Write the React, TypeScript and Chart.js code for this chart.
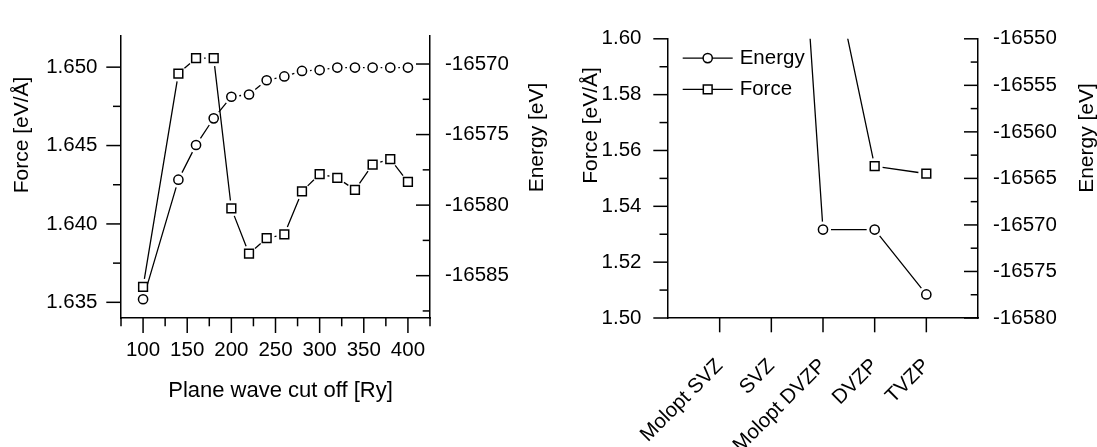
import { useEffect, useRef } from "react";
import { Chart, registerables } from "chart.js";

Chart.register(...registerables);

const INK = "#000000";
const FONT_FAMILY = "'Liberation Sans', Arial, Helvetica, sans-serif";

// Plane-wave cut-off scan [Ry]
const cutoffs = [100, 140, 160, 180, 200, 220, 240, 260, 280, 300, 320, 340, 360, 380, 400];
const cutoffEnergy = [
  -16586.67, -16578.2, -16575.74, -16573.85, -16572.32, -16572.16, -16571.15, -16570.88,
  -16570.49, -16570.43, -16570.25, -16570.25, -16570.25, -16570.25, -16570.25,
];
const cutoffForce = [
  1.63599, 1.64959, 1.65057, 1.65057, 1.64099, 1.6381, 1.63909, 1.63933, 1.64207, 1.64318,
  1.64294, 1.64217, 1.64379, 1.64414, 1.64268,
];

// Basis-set comparison
const basisSets = ["Molopt SVZ", "SVZ", "Molopt DVZP", "DVZP", "TVZP"];
const basisEnergy = [-16462, -16488, -16570.5, -16570.5, -16577.47];
const basisForce = [1.69, 1.668, 1.642, 1.5544, 1.5517];

// Axis ticks
const cutoffTicks = [100, 150, 200, 250, 300, 350, 400];
const cutoffMinorTicks = [75, 125, 175, 225, 275, 325, 375, 425];
const cutoffForceTicks = [1.635, 1.64, 1.645, 1.65];
const cutoffForceMinorTicks = [1.6375, 1.6425, 1.6475];
const cutoffEnergyTicks = [-16585, -16580, -16575, -16570];
const cutoffEnergyMinorTicks = [-16587.5, -16582.5, -16577.5, -16572.5];
const basisTicks = [1, 2, 3, 4, 5];
const basisForceTicks = [1.5, 1.52, 1.54, 1.56, 1.58, 1.6];
const basisForceMinorTicks = [1.51, 1.53, 1.55, 1.57, 1.59];
const basisEnergyTicks = [-16580, -16575, -16570, -16565, -16560, -16555, -16550];
const basisEnergyMinorTicks = [-16577.5, -16572.5, -16567.5, -16562.5, -16557.5, -16552.5];

type TickSet = { major: number[]; minor: number[]; majorLen: number; minorLen: number; inward: boolean };
type Caption = { text: string; x: number; y: number; angle: number; size: number };

// Major/minor tick marks drawn against each axis, pointing in or out of the frame.
function tickMarks(sets: Record<string, TickSet>) {
  return {
    id: "tickMarks",
    afterDraw(chart: any) {
      const { ctx, chartArea } = chart;
      ctx.save();
      ctx.strokeStyle = INK;
      ctx.lineWidth = 1.5;
      for (const id of Object.keys(sets)) {
        const set = sets[id];
        const scale = chart.scales[id];
        const stroke = (values: number[], len: number) => {
          for (const v of values) {
            const p = scale.getPixelForValue(v);
            ctx.beginPath();
            if (scale.isHorizontal()) {
              const y0 = chartArea.bottom;
              const dir = set.inward ? -1 : 1;
              ctx.moveTo(p, y0);
              ctx.lineTo(p, y0 + dir * len);
            } else {
              const atLeft = scale.position === "left";
              const x0 = atLeft ? chartArea.left : chartArea.right;
              const out = atLeft ? -1 : 1;
              const dir = set.inward ? -out : out;
              ctx.moveTo(x0, p);
              ctx.lineTo(x0 + dir * len, p);
            }
            ctx.stroke();
          }
        };
        stroke(set.major, set.majorLen);
        stroke(set.minor, set.minorLen);
      }
      ctx.restore();
    },
  };
}

// Connecting lines that stop short of each symbol.
const gappedLines = {
  id: "gappedLines",
  beforeDatasetsDraw(chart: any) {
    const { ctx, chartArea } = chart;
    ctx.save();
    ctx.beginPath();
    ctx.rect(chartArea.left, chartArea.top, chartArea.right - chartArea.left, chartArea.bottom - chartArea.top);
    ctx.clip();
    chart.data.datasets.forEach((ds: any, i: number) => {
      const pts = chart.getDatasetMeta(i).data;
      const gap = ds.lineGap ?? 8;
      ctx.strokeStyle = ds.borderColor;
      ctx.lineWidth = ds.borderWidth;
      ctx.beginPath();
      for (let k = 0; k + 1 < pts.length; k++) {
        const a = pts[k];
        const b = pts[k + 1];
        const dx = b.x - a.x;
        const dy = b.y - a.y;
        const d = Math.hypot(dx, dy);
        if (d <= 2 * gap) continue;
        const ux = dx / d;
        const uy = dy / d;
        ctx.moveTo(a.x + ux * gap, a.y + uy * gap);
        ctx.lineTo(b.x - ux * gap, b.y - uy * gap);
      }
      ctx.stroke();
    });
    ctx.restore();
  },
};

function drawSymbol(ctx: CanvasRenderingContext2D, ds: any, x: number, y: number) {
  ctx.beginPath();
  if (ds.pointStyle === "rect") {
    const s = ds.pointRadius * Math.SQRT1_2;
    ctx.rect(x - s, y - s, 2 * s, 2 * s);
  } else {
    ctx.arc(x, y, ds.pointRadius, 0, Math.PI * 2);
  }
  ctx.fillStyle = ds.pointBackgroundColor;
  ctx.fill();
  ctx.lineWidth = ds.pointBorderWidth;
  ctx.strokeStyle = ds.pointBorderColor;
  ctx.stroke();
}

// Legend inside the plot frame: line through symbol, then the series name.
function frameLegend(spec: { left: number; top: number; rowStep: number; lineLength: number; textGap: number; size: number }) {
  return {
    id: "frameLegend",
    afterDatasetsDraw(chart: any) {
      const { ctx, chartArea } = chart;
      ctx.save();
      chart.data.datasets.forEach((ds: any, i: number) => {
        const x0 = chartArea.left + spec.left;
        const y = chartArea.top + spec.top + i * spec.rowStep;
        ctx.strokeStyle = ds.borderColor;
        ctx.lineWidth = ds.borderWidth;
        ctx.beginPath();
        ctx.moveTo(x0, y);
        ctx.lineTo(x0 + spec.lineLength, y);
        ctx.stroke();
        drawSymbol(ctx, ds, x0 + spec.lineLength / 2, y);
        ctx.fillStyle = INK;
        ctx.font = `${spec.size}px ${FONT_FAMILY}`;
        ctx.textAlign = "left";
        ctx.textBaseline = "middle";
        ctx.fillText(ds.label, x0 + spec.lineLength + spec.textGap, y);
      });
      ctx.restore();
    },
  };
}

// Axis titles.
function captions(items: Caption[]) {
  return {
    id: "captions",
    afterDraw(chart: any) {
      const { ctx } = chart;
      ctx.save();
      ctx.fillStyle = INK;
      ctx.textAlign = "center";
      ctx.textBaseline = "middle";
      for (const c of items) {
        ctx.save();
        ctx.font = `${c.size}px ${FONT_FAMILY}`;
        ctx.translate(c.x, c.y);
        ctx.rotate(c.angle);
        ctx.fillText(c.text, 0, 0);
        ctx.restore();
      }
      ctx.restore();
    },
  };
}

const energyStyle = {
  label: "Energy",
  borderColor: INK,
  borderWidth: 1.3,
  pointStyle: "circle",
  pointRadius: 4.6,
  pointBorderWidth: 1.5,
  pointBorderColor: INK,
  pointBackgroundColor: "#ffffff",
  showLine: false,
  lineGap: 8,
};

const forceStyle = {
  label: "Force",
  borderColor: INK,
  borderWidth: 1.3,
  pointStyle: "rect",
  pointRadius: 6.2,
  pointBorderWidth: 1.5,
  pointBorderColor: INK,
  pointBackgroundColor: "#ffffff",
  showLine: false,
  lineGap: 8,
};

const frameBorder = { display: true, color: INK, width: 1.5 };

function valueAxis(opts: {
  position: "left" | "right";
  min: number;
  max: number;
  ticks: number[];
  width: number;
  padding: number;
  format: (v: number) => string;
}) {
  return {
    type: "linear",
    position: opts.position,
    min: opts.min,
    max: opts.max,
    afterBuildTicks: (s: any) => {
      s.ticks = opts.ticks.map((value) => ({ value }));
    },
    afterFit: (s: any) => {
      s.width = opts.width;
    },
    grid: { display: false, drawTicks: false },
    border: frameBorder,
    ticks: {
      color: INK,
      padding: opts.padding,
      font: { size: 20.5 },
      autoSkip: false,
      callback: (v: any) => opts.format(Number(v)),
    },
  };
}

function cutoffConfig(): any {
  return {
    type: "line",
    data: {
      datasets: [
        {
          ...forceStyle,
          yAxisID: "yF",
          data: cutoffs.map((x, i) => ({ x, y: cutoffForce[i] })),
        },
        {
          ...energyStyle,
          yAxisID: "yE",
          data: cutoffs.map((x, i) => ({ x, y: cutoffEnergy[i] })),
        },
      ],
    },
    options: {
      responsive: false,
      animation: false,
      events: [],
      layout: { padding: { top: 22, left: 0, right: 0, bottom: 0 } },
      plugins: { legend: { display: false }, tooltip: { enabled: false }, title: { display: false } },
      scales: {
        x: {
          type: "linear",
          min: 75,
          max: 425,
          afterBuildTicks: (s: any) => {
            s.ticks = cutoffTicks.map((value) => ({ value }));
          },
          afterFit: (s: any) => {
            s.height = 129;
          },
          grid: { display: false, drawTicks: false },
          border: frameBorder,
          ticks: { color: INK, padding: 20, font: { size: 20.5 }, maxRotation: 0, autoSkip: false, callback: (v: any) => String(v) },
        },
        yF: valueAxis({ position: "left", min: 1.634, max: 1.652, ticks: cutoffForceTicks, width: 121, padding: 23.5, format: (v) => v.toFixed(3) }),
        yE: valueAxis({ position: "right", min: -16588, max: -16568, ticks: cutoffEnergyTicks, width: 119, padding: 15, format: (v) => String(Math.round(v)) }),
      },
    },
    plugins: [
      gappedLines,
      tickMarks({
        x: { major: cutoffTicks, minor: cutoffMinorTicks, majorLen: 15, minorLen: 8.3, inward: false },
        yF: { major: cutoffForceTicks, minor: cutoffForceMinorTicks, majorLen: 14.7, minorLen: 8, inward: false },
        yE: { major: cutoffEnergyTicks, minor: cutoffEnergyMinorTicks, majorLen: 14, minorLen: 7.3, inward: true },
      }),
      captions([
        { text: "Force [eV/Å]", x: 22, y: 135, angle: -Math.PI / 2, size: 21 },
        { text: "Energy [eV]", x: 537.5, y: 137.5, angle: -Math.PI / 2, size: 21 },
        { text: "Plane wave cut off [Ry]", x: 280.5, y: 391, angle: 0, size: 22 },
      ]),
    ],
  };
}

function basisConfig(): any {
  return {
    type: "line",
    data: {
      datasets: [
        {
          ...energyStyle,
          yAxisID: "yE",
          data: basisSets.map((_, i) => ({ x: i + 1, y: basisEnergy[i] })),
        },
        {
          ...forceStyle,
          yAxisID: "yF",
          data: basisSets.map((_, i) => ({ x: i + 1, y: basisForce[i] })),
        },
      ],
    },
    options: {
      responsive: false,
      animation: false,
      events: [],
      layout: { padding: { top: 22, left: 0, right: 0, bottom: 0 } },
      plugins: { legend: { display: false }, tooltip: { enabled: false }, title: { display: false } },
      scales: {
        x: {
          type: "linear",
          min: 0,
          max: basisSets.length + 1,
          afterBuildTicks: (s: any) => {
            s.ticks = basisTicks.map((value) => ({ value }));
          },
          afterFit: (s: any) => {
            s.height = 129;
          },
          grid: { display: false, drawTicks: false },
          border: frameBorder,
          ticks: {
            color: INK,
            padding: 36,
            font: { size: 20.5 },
            minRotation: 45,
            maxRotation: 45,
            autoSkip: false,
            callback: (v: any) => basisSets[Number(v) - 1] ?? "",
          },
        },
        yF: valueAxis({ position: "left", min: 1.5, max: 1.6, ticks: basisForceTicks, width: 119, padding: 26.5, format: (v) => v.toFixed(2) }),
        yE: valueAxis({ position: "right", min: -16580, max: -16550, ticks: basisEnergyTicks, width: 119, padding: 15, format: (v) => String(Math.round(v)) }),
      },
    },
    plugins: [
      gappedLines,
      tickMarks({
        x: { major: basisTicks, minor: [], majorLen: 14.3, minorLen: 0, inward: false },
        yF: { major: basisForceTicks, minor: basisForceMinorTicks, majorLen: 14.7, minorLen: 8.5, inward: false },
        yE: { major: basisEnergyTicks, minor: basisEnergyMinorTicks, majorLen: 14, minorLen: 7.3, inward: true },
      }),
      frameLegend({ left: 14.7, top: 19.3, rowStep: 31.3, lineLength: 50, textGap: 7, size: 20.5 }),
      captions([
        { text: "Force [eV/Å]", x: 42, y: 125.5, angle: -Math.PI / 2, size: 21 },
        { text: "Energy [eV]", x: 538, y: 138, angle: -Math.PI / 2, size: 21 },
      ]),
    ],
  };
}

function Panel({ build, left, width }: { build: () => any; left: number; width: number }) {
  const ref = useRef<HTMLCanvasElement | null>(null);
  useEffect(() => {
    if (!ref.current) return;
    const chart = new Chart(ref.current, build());
    return () => chart.destroy();
  }, [build]);
  return (
    <canvas
      ref={ref}
      width={width}
      height={447}
      style={{ position: "absolute", left, top: 0, width, height: 447 }}
    />
  );
}

Chart.defaults.font.family = FONT_FAMILY;
Chart.defaults.color = INK;

export default function App() {
  return (
    <div style={{ position: "absolute", left: 0, top: 0, width: 1097, height: 447, background: "#ffffff", overflow: "hidden" }}>
      <Panel build={cutoffConfig} left={0} width={549} />
      <Panel build={basisConfig} left={549} width={548} />
    </div>
  );
}
